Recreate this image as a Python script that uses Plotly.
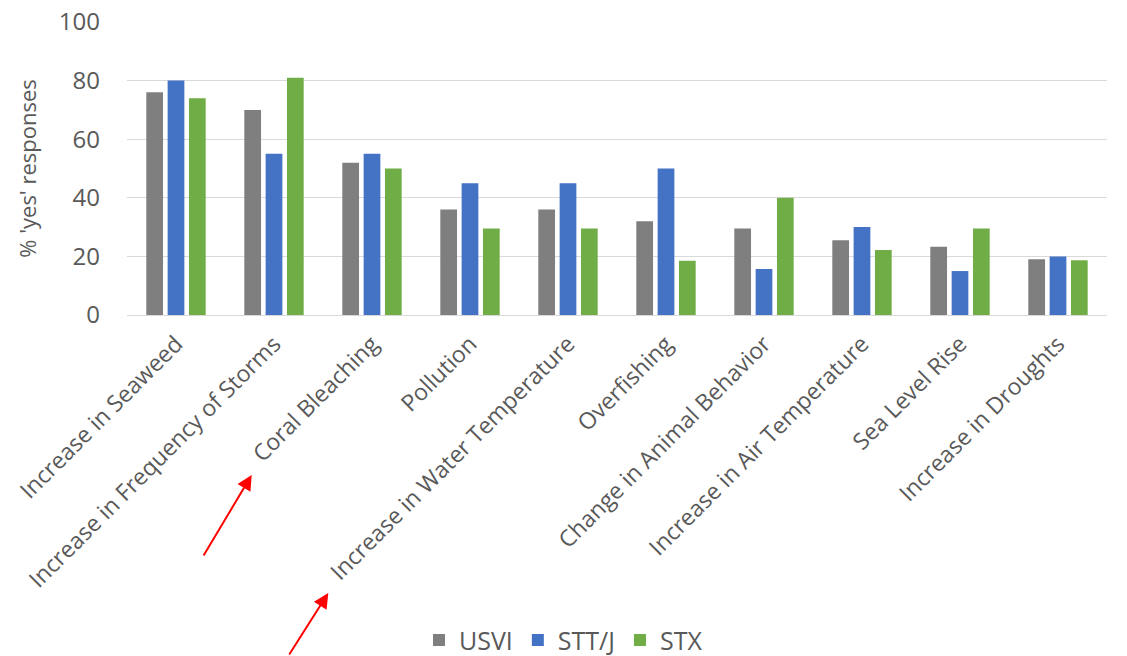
import plotly.graph_objects as go

# Survey categories and share of 'yes' responses (%) per region
categories = [
    "Increase in Seaweed",
    "Increase in Frequency of Storms",
    "Coral Bleaching",
    "Pollution",
    "Increase in Water Temperature",
    "Overfishing",
    "Change in Animal Behavior",
    "Increase in Air Temperature",
    "Sea Level Rise",
    "Increase in Droughts",
]
usvi = [76, 70, 52, 36, 36, 32, 29.5, 25.5, 23.3, 19]
stt_j = [80, 55, 55, 45, 45, 50, 15.7, 30, 15, 20]
stx = [74, 81, 50, 29.5, 29.5, 18.5, 40, 22.2, 29.5, 18.7]

series = [
    ("USVI", usvi, "#7f7f7f"),
    ("STT/J", stt_j, "#4472c4"),
    ("STX", stx, "#70ad47"),
]

text_color = "#595959"
font_family = "Open Sans"

fig = go.Figure()
for name, values, color in series:
    fig.add_trace(go.Bar(name=name, x=categories, y=values, marker_color=color,
                         marker_line_width=0))

W, H = 1127, 656
ml, mr, mt, mb = 127, 20, 22, 341

fig.update_layout(
    width=W, height=H,
    margin=dict(l=ml, r=mr, t=mt, b=mb, autoexpand=False),
    paper_bgcolor="white", plot_bgcolor="white",
    barmode="group", bargap=0.347, bargroupgap=0.216,
    font=dict(family=font_family, color=text_color),
    showlegend=True,
    legend=dict(
        orientation="h", xref="container", yref="container",
        x=0.5, xanchor="center", y=0.024, yanchor="middle",
        font=dict(size=25, color=text_color),
        itemwidth=30, tracegroupgap=0,
    ),
)

fig.update_yaxes(
    range=[0, 100], dtick=20, showgrid=True, gridcolor="#d9d9d9", gridwidth=1,
    zeroline=True, zerolinecolor="#d9d9d9", zerolinewidth=1,
    showline=False, ticks="", ticklabelstandoff=26,
    tickfont=dict(size=24, color=text_color),
    title=dict(text="% 'yes' responses", font=dict(size=22, color=text_color), standoff=16),
)
fig.update_xaxes(
    tickangle=-45, showline=False, ticks="", showgrid=False,
    ticklabelstandoff=10,
    tickfont=dict(size=23, color=text_color),
)

# Red pointer arrows below the category labels
plot_w = W - ml - mr
plot_h = H - mt - mb
arrows = [((251.7, 475), (-49, 82)), ((328.3, 593), (-40, 65))]
for (px, py), (ax, ay) in arrows:
    fig.add_annotation(
        x=(px - ml) / plot_w, y=(H - mb - py) / plot_h,
        xref="paper", yref="paper", text="", showarrow=True,
        ax=ax, ay=ay, arrowhead=2, arrowsize=1.5, arrowwidth=2,
        arrowcolor="#ff0000", standoff=0,
    )

fig.write_html("out.html")
